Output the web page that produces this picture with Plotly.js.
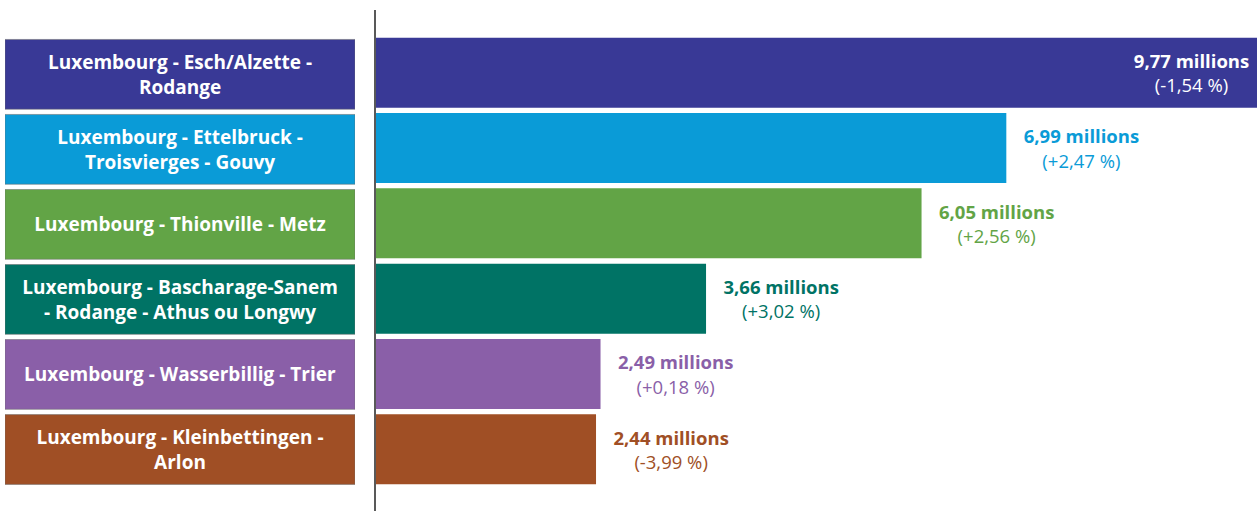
<!DOCTYPE html>
<html>
<head>
<meta charset="utf-8">
<script src="https://cdn.plot.ly/plotly-3.0.1.min.js"></script>
<style>html,body{margin:0;padding:0;background:#fff;}#chart{width:1259px;height:511px;}</style>
</head>
<body>
<div id="chart"></div>
<script>
const routes = [
  "Luxembourg - Esch/Alzette -<br>Rodange",
  "Luxembourg - Ettelbruck -<br>Troisvierges - Gouvy",
  "Luxembourg - Thionville - Metz",
  "Luxembourg - Bascharage-Sanem<br>- Rodange - Athus ou Longwy",
  "Luxembourg - Wasserbillig - Trier",
  "Luxembourg - Kleinbettingen -<br>Arlon"
];
const passengers = [9.77, 6.99, 6.05, 3.66, 2.49, 2.44]; // millions
const changes = [-1.54, 2.47, 2.56, 3.02, 0.18, -3.99];   // %
const colors = ["#393996", "#0A9BD7", "#62A446", "#007365", "#8A5FA8", "#A04F25"];

const fmt = v => v.toFixed(2).replace('.', ',');
const ids = routes.map((r, i) => 'r' + i);
const nb = '\u00a0';
const valueText = passengers.map((v, i) => {
  const ch = (changes[i] >= 0 ? '+' : '-') + fmt(Math.abs(changes[i])) + ' %';
  if (i === 0) return '<b>' + fmt(v) + ' millions</b>' + nb + '<br>(' + ch + ')' + nb;
  return nb.repeat(3) + '<b>' + fmt(v) + ' millions</b><br>' + nb.repeat(3) + '(' + ch + ')';
});
const positions = passengers.map((v, i) => i === 0 ? 'inside' : 'outside');
const textColors = passengers.map((v, i) => i === 0 ? '#ffffff' : colors[i]);

const W = 1259, H = 511;
const mainTrace = {
  type: 'bar', orientation: 'h',
  y: ids, x: passengers,
  marker: {color: colors, line: {width: 0}},
  text: valueText, textposition: positions,
  insidetextanchor: 'end',
  textfont: {family: '"Open Sans", sans-serif', size: 18.5, color: textColors},
  cliponaxis: false, constraintext: 'none',
  hoverinfo: 'skip', xaxis: 'x', yaxis: 'y'
};
const labelTrace = {
  type: 'bar', orientation: 'h',
  y: ids, x: routes.map(() => 1),
  marker: {color: colors, line: {width: 1, color: 'rgba(110,110,110,0.55)'}},
  text: routes.map(r => '<b>' + r + '</b>'),
  textposition: 'inside', insidetextanchor: 'middle',
  textfont: {family: '"Open Sans", sans-serif', size: 19, color: '#ffffff'},
  constraintext: 'none',
  hoverinfo: 'skip', xaxis: 'x2', yaxis: 'y2'
};

const layout = {
  width: W, height: H,
  margin: {l: 0, r: 0, t: 35, b: 24},
  paper_bgcolor: '#ffffff', plot_bgcolor: 'rgba(0,0,0,0)',
  showlegend: false, bargap: 0.07,
  xaxis: {domain: [376 / W, 1], range: [0, 9.77 * (W - 376) / (1257 - 376)], visible: false, fixedrange: true},
  yaxis: {domain: [0, 1], autorange: false, range: [5.5, -0.5], visible: false, type: 'category', categoryarray: ids},
  xaxis2: {domain: [5 / W, 355 / W], range: [0, 1], visible: false, anchor: 'y2'},
  yaxis2: {domain: [-0.004, 0.996], autorange: false, range: [5.5, -0.5], visible: false, type: 'category', categoryarray: ids, anchor: 'x2'},
  shapes: [{
    type: 'line', xref: 'paper', yref: 'paper',
    x0: 375 / W, x1: 375 / W, y0: (487 - 10) / 452, y1: -0.06,
    line: {color: '#222222', width: 1.5}
  }]
};

Plotly.newPlot('chart', [labelTrace, mainTrace], layout, {displayModeBar: false, staticPlot: true});
</script>
</body>
</html>
